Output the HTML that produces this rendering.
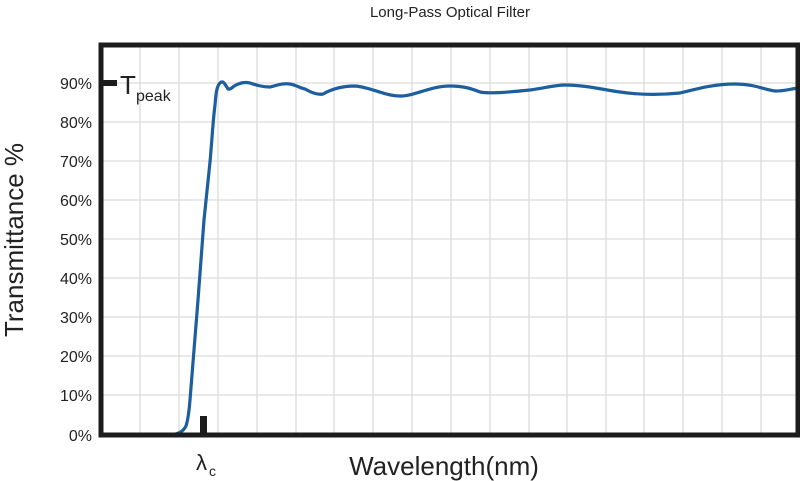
<!DOCTYPE html>
<html><head><meta charset="utf-8"><style>
html,body{margin:0;padding:0;background:#fff;width:800px;height:481px;overflow:hidden}
svg{display:block}
text{font-family:"Liberation Sans",Arial,sans-serif;fill:#222}
</style></head><body>
<svg width="800" height="481" viewBox="0 0 800 481" xmlns="http://www.w3.org/2000/svg">
<text x="450" y="17" font-size="15" text-anchor="middle">Long-Pass Optical Filter</text>
<g stroke="#dcdcdc" stroke-width="1.3">
<line x1="140" y1="45" x2="140" y2="435"/><line x1="179" y1="45" x2="179" y2="435"/>
<line x1="218" y1="45" x2="218" y2="435"/><line x1="257" y1="45" x2="257" y2="435"/>
<line x1="296" y1="45" x2="296" y2="435"/><line x1="334" y1="45" x2="334" y2="435"/>
<line x1="373" y1="45" x2="373" y2="435"/><line x1="412" y1="45" x2="412" y2="435"/>
<line x1="451" y1="45" x2="451" y2="435"/><line x1="490" y1="45" x2="490" y2="435"/>
<line x1="529" y1="45" x2="529" y2="435"/><line x1="567" y1="45" x2="567" y2="435"/>
<line x1="606" y1="45" x2="606" y2="435"/><line x1="644" y1="45" x2="644" y2="435"/>
<line x1="683" y1="45" x2="683" y2="435"/><line x1="722" y1="45" x2="722" y2="435"/>
<line x1="761" y1="45" x2="761" y2="435"/>
<line x1="101" y1="83" x2="798" y2="83"/><line x1="101" y1="122" x2="798" y2="122"/>
<line x1="101" y1="161" x2="798" y2="161"/><line x1="101" y1="200" x2="798" y2="200"/>
<line x1="101" y1="239" x2="798" y2="239"/><line x1="101" y1="278" x2="798" y2="278"/>
<line x1="101" y1="317" x2="798" y2="317"/><line x1="101" y1="356" x2="798" y2="356"/>
<line x1="101" y1="395" x2="798" y2="395"/>
</g>
<path d="M170,435 C178,434 183,432 186,426 C188,420 189,412 190,400 L198,300 L204,220 L210,162 C212,140 213,120 215,105 C216,92 217,86 220,83 C223,80 225,84 228,89 C231,90 233,86 236,85 C242,82 246,82 250,83 C256,85 262,87 270,87 C278,85 283,83 290,84 C296,85 300,88 305,89 C312,93 318,95 323,94 C330,90 340,86 355,86 C370,87 385,96 400,96 C415,96 430,86 450,86 C462,86 470,88 480,92 C490,94 510,92 530,90 C545,88 555,85 565,85 C585,85 605,90 620,92 C640,95 660,95 680,93 C700,88 715,84 735,84 C755,84 765,90 775,91 C785,91 790,89 798,88" fill="none" stroke="#1c5e9e" stroke-width="3.2"/>
<path d="M101,45 L101,435 L798,435 L798,45 Z" fill="none" stroke="#1c1c1c" stroke-width="5"/>
<rect x="101" y="80" width="16" height="6" fill="#1c1c1c"/>
<rect x="200" y="416" width="7" height="19" fill="#1c1c1c"/>
<g font-size="16" text-anchor="end">
<text x="92" y="89">90%</text><text x="92" y="128">80%</text><text x="92" y="167">70%</text>
<text x="92" y="206">60%</text><text x="92" y="245">50%</text><text x="92" y="284">40%</text>
<text x="92" y="323">30%</text><text x="92" y="362">20%</text><text x="92" y="401">10%</text>
<text x="92" y="441">0%</text>
</g>
<text x="120" y="94" font-size="26">T</text><text x="136" y="101" font-size="16">peak</text>
<text x="196" y="470" font-size="22">λ</text><text x="209" y="476" font-size="14">c</text>
<text x="444" y="475" font-size="26" text-anchor="middle">Wavelength(nm)</text>
<text transform="translate(23,240) rotate(-90)" font-size="26" text-anchor="middle">Transmittance %</text>
</svg>
</body></html>
